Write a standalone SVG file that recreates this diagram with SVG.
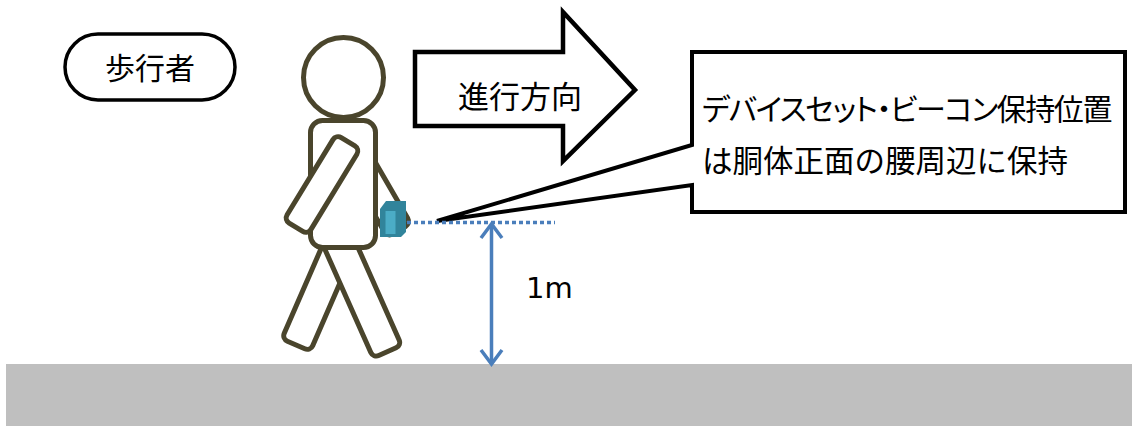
<svg xmlns="http://www.w3.org/2000/svg" width="1132" height="426" viewBox="0 0 1132 426">
  <style>
    .jp { font-family: "Noto Sans CJK JP", "Noto Sans", sans-serif; fill: #000; }
    .body { fill: #fff; stroke: #4A452C; stroke-width: 5; stroke-linejoin: round; }
    .outline { fill: #fff; stroke: #000; stroke-linejoin: miter; }
    .blue { stroke: #4A7EBB; fill: none; }
  </style>

  <!-- floor -->
  <g id="ground">
    <rect x="6" y="364" width="1126" height="62" fill="#BFBFBF"/>
  </g>

  <!-- label: pedestrian -->
  <g id="pedestrian-label">
    <rect class="outline" x="65" y="34" width="170" height="66" rx="33" stroke-width="3.5"/>
    <text class="jp" x="150" y="79" font-size="30" text-anchor="middle">歩行者</text>
  </g>

  <!-- walking figure -->
  <g id="person">
    <rect class="body" x="-13.5" y="-50" width="27" height="100" rx="6" transform="translate(374 187) rotate(-30)"/>
    <rect class="body" x="-15.5" y="-60" width="31" height="120" rx="6" transform="translate(320 290) rotate(23.5)"/>
    <rect class="body" x="-15.5" y="-62.5" width="31" height="125" rx="6" transform="translate(362 294.6) rotate(-24)"/>
    <rect class="body" x="310.5" y="120.5" width="65" height="127" rx="12"/>
    <rect class="body" x="-14" y="-50" width="28" height="100" rx="6" transform="translate(322 184.5) rotate(31.4)"/>
    <circle class="body" cx="343.5" cy="77.5" r="40"/>
  </g>

  <!-- beacon device held at the waist -->
  <g id="device">
    <polygon points="380,209 386,201 406,201 406,232 401,237 380,237" fill="#31849B"/>
    <rect x="385.5" y="211" width="10" height="23" fill="#4BACC6"/>
  </g>

  <!-- walking direction arrow -->
  <g id="direction-arrow">
    <polygon class="outline" stroke-width="4.5" points="415,52 563,52 563,12 635,90 563,161 563,126 415,126"/>
    <text class="jp" x="520" y="108" font-size="31" text-anchor="middle">進行方向</text>
  </g>

  <!-- callout describing the holding position -->
  <g id="callout">
    <path class="outline" stroke-width="4" d="M692,52 H1125 V212 H692 V185 L437,221 L692,145 Z"/>
    <text class="jp" x="702" y="120" font-size="30" style="font-feature-settings: 'palt'; letter-spacing: -1.4px">デバイスセット・ビーコン保持位置</text>
    <text class="jp" x="702" y="172" font-size="30.5">は胴体正面の腰周辺に保持</text>
  </g>

  <!-- level line and height dimension -->
  <g id="connectors">
    <line class="blue" x1="407" y1="222.5" x2="555" y2="222.5" stroke-width="3.5" stroke-dasharray="4 3"/>
    <line class="blue" x1="491.5" y1="225" x2="491.5" y2="362" stroke-width="3.5"/>
    <path class="blue" d="M481,238 L491.5,224 L502,238 M481,350 L491.5,364 L502,350" stroke-width="3.5"/>
  </g>

  <g id="height-label">
    <text x="526" y="298" font-family="DejaVu Sans, Verdana, sans-serif" font-size="29" fill="#000">1m</text>
  </g>
</svg>
